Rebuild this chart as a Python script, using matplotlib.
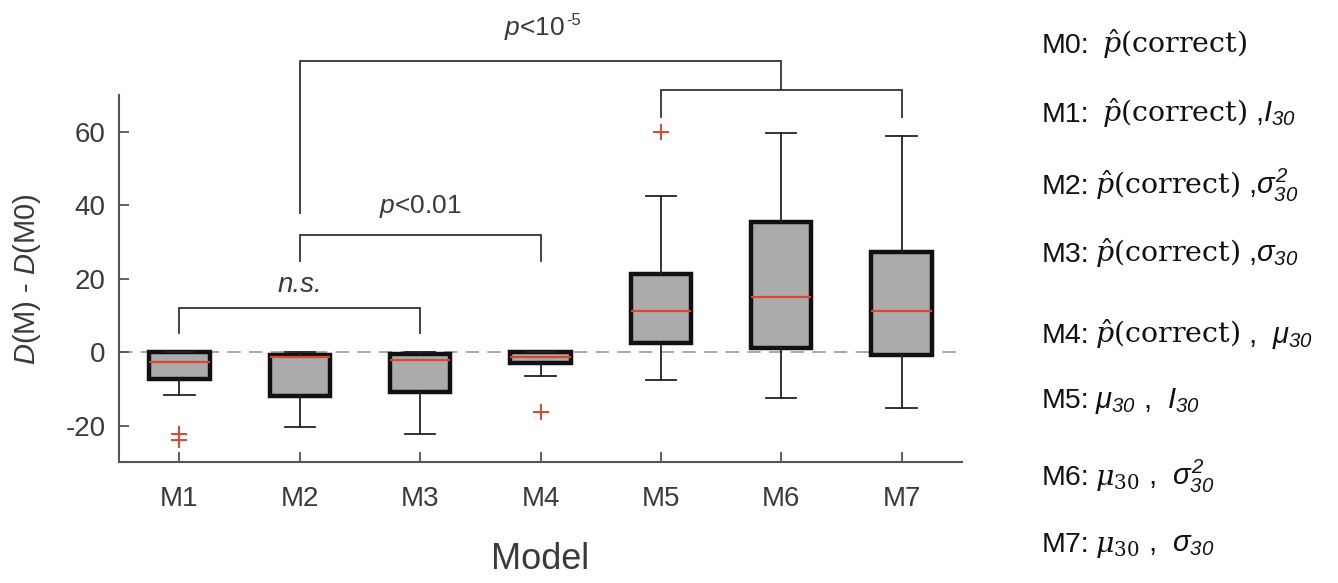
import matplotlib
matplotlib.use("Agg")
import matplotlib.pyplot as plt
from matplotlib.text import Annotation

plt.rcParams['font.family'] = ['Liberation Sans', 'DejaVu Sans']
plt.rcParams['mathtext.fontset'] = 'custom'
plt.rcParams['mathtext.rm'] = 'DejaVu Serif'
plt.rcParams['mathtext.it'] = 'Liberation Sans:italic'
plt.rcParams['mathtext.sf'] = 'Liberation Sans:italic'
plt.rcParams['mathtext.cal'] = 'DejaVu Serif:italic'
plt.rcParams['mathtext.bf'] = 'Liberation Sans:bold'

# ---- data ----
models = ["M1", "M2", "M3", "M4", "M5", "M6", "M7"]
q1 = [-7.4, -11.9, -10.9, -3.0, 2.5, 1.1, -0.9]
med = [-2.7, -1.4, -2.1, -1.4, 11.1, 14.9, 11.3]
q3 = [0.0, -0.7, -0.5, 0.0, 21.3, 35.5, 27.3]
whislo = [-11.8, -20.4, -22.4, -6.6, -7.6, -12.5, -15.1]
whishi = [0.0, 0.0, 0.0, 0.0, 42.6, 59.7, 58.8]
fliers = [[-22.3, -24.0], [], [], [-16.2], [60.0], [], []]

PC = r"$\hat{\mathcal{p}}$(correct)"
MU_SERIF = r"$\mathcal{\mu}_{\mathrm{30}}$"
legend_labels = ["M0:", "M1:", "M2:", "M3:", "M4:", "M5:", "M6:", "M7:"]
legend_serif = [PC, PC, PC, PC, PC, "", MU_SERIF, MU_SERIF]
legend_tail = [
    "",
    r" ,$I_{\mathsf{30}}$",
    r" ,$\sigma^{\mathsf{2}}_{\mathsf{30}}$",
    r" ,$\sigma_{\mathsf{30}}$",
    r" ,  $\mu_{\mathsf{30}}$",
    r"$\mu_{\mathsf{30}}$ ,  $I_{\mathsf{30}}$",
    r" ,  $\sigma^{\mathsf{2}}_{\mathsf{30}}$",
    r" ,  $\sigma_{\mathsf{30}}$",
]
legend_gap = [9, 9, 4, 4, 4, 4, 4, 4]

# ---- figure ----
W, H = 1338, 583
fig = plt.figure(figsize=(W / 100, H / 100), dpi=100)
ax = fig.add_axes([119.3 / W, 1 - 462.3 / H, (961.7 - 119.3) / W, (462.3 - 95) / H])

pos = list(range(1, len(models) + 1))
stats = []
for i, m in enumerate(models):
    stats.append(dict(label=m, q1=q1[i], med=med[i], q3=q3[i],
                      whislo=whislo[i], whishi=whishi[i], fliers=fliers[i]))

ax.axhline(0, color='#9a9a9a', lw=1.2, ls=(0, (8, 5)), zorder=0.5)

ax.bxp(stats, positions=pos, widths=0.5, capwidths=0.25, patch_artist=True,
       manage_ticks=False,
       boxprops=dict(facecolor='#ababab', edgecolor='#111111', linewidth=3.2),
       medianprops=dict(color='#e0452c', linewidth=1.6),
       whiskerprops=dict(color='#222222', linewidth=1.3),
       capprops=dict(color='#222222', linewidth=1.3),
       flierprops=dict(marker='+', markeredgecolor='#e0452c', markersize=11,
                       markeredgewidth=1.4, linestyle='none'))

ax.set_xlim(0.5, 7.5)
ax.set_ylim(-30, 70)
ax.set_xticks(pos)
ax.set_xticklabels(models)
ax.set_yticks([-20, 0, 20, 40, 60])
ax.set_yticklabels(["-20", "0", "20", "40", "60"])

for s in ['top', 'right']:
    ax.spines[s].set_visible(False)
for s in ['left', 'bottom']:
    ax.spines[s].set_color('#555555')
    ax.spines[s].set_linewidth(1.5)

ax.tick_params(axis='both', direction='in', length=7, width=1.3, color='#555555',
               labelsize=20, labelcolor='#3a3a3a')
ax.tick_params(axis='x', pad=17)
ax.tick_params(axis='y', pad=10)

ax.set_xlabel("Model", fontsize=26, color='#3a3a3a', labelpad=22)
ax.set_ylabel(r"$D$(M) - $D$(M0)", fontsize=21, color='#3a3a3a', labelpad=16)

# ---- significance brackets ----
bcol = '#333333'
blw = 1.3

def bracket(x1, x2, ybar, yleg1, yleg2):
    ax.plot([x1, x1, x2, x2], [yleg1, ybar, ybar, yleg2], color=bcol, lw=blw,
            clip_on=False, solid_joinstyle='miter')

bracket(1, 3, 12.0, 5.2, 5.2)
ax.text(2, 18.4, "n.s.", fontsize=20, style='italic', color='#3a3a3a',
        ha='center', va='center')

bracket(2, 4, 32.0, 24.9, 24.9)
ax.text(3, 39.7, r"$p$<0.01", fontsize=19, color='#3a3a3a', ha='center', va='center')

bracket(5, 7, 71.3, 64.1, 64.1)
bracket(2, 6, 79.2, 37.9, 71.3)
tp = ax.text(3.95, 88.0, r"$p$<10", fontsize=19, color='#3a3a3a',
             ha='center', va='center', clip_on=False)
ax.annotate("-5", xy=(1.0, 0.82), xycoords=tp, xytext=(1, 0),
            textcoords='offset points', fontsize=12, color='#3a3a3a',
            ha='left', va='center')

# ---- model legend (pieces chained left to right on a common baseline) ----
baselines = [53.3, 121.7, 194, 261.7, 343.3, 408.3, 485, 551.7]
for lab, ser, tail, gap, b in zip(legend_labels, legend_serif, legend_tail,
                                  legend_gap, baselines):
    yb = 1 - b / H
    prev = fig.text(1042 / W, yb, lab, fontsize=20.5, color='#111111',
                    ha='left', va='baseline')
    first = True
    for s, fam, fs in ((ser, 'DejaVu Serif', 20.5), (tail, 'Liberation Sans', 21)):
        if not s:
            continue
        off = gap if first else 0
        first = False
        a = Annotation(s, xy=(1.0, yb), xycoords=(prev, fig.transFigure),
                       xytext=(off, 0), textcoords='offset points',
                       fontsize=fs, family=fam, color='#111111',
                       ha='left', va='baseline')
        fig.add_artist(a)
        prev = a

fig.savefig("out.png", dpi=100)
